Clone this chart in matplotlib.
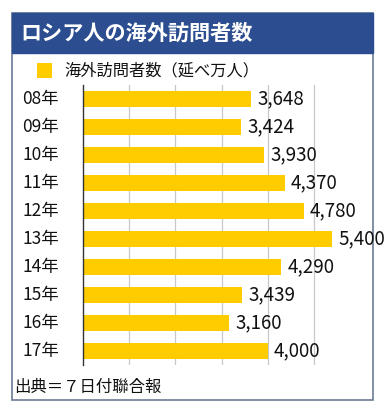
import matplotlib
matplotlib.use("Agg")
import matplotlib.pyplot as plt
from matplotlib.patches import Rectangle
from matplotlib.transforms import blended_transform_factory

plt.rcParams['font.family'] = ['Noto Sans CJK JP', 'DejaVu Sans']

years = ["08年", "09年", "10年", "11年", "12年", "13年", "14年", "15年", "16年", "17年"]
values = [3648, 3424, 3930, 4370, 4780, 5400, 4290, 3439, 3160, 4000]
title = "ロシア人の海外訪問者数"
legend_label = "海外訪問者数（延べ万人）"
source = "出典＝７日付聯合報"
grid_ticks = [1000, 2000, 3000, 4000, 5000]

W, H = 388, 412
fig = plt.figure(figsize=(W / 100, H / 100), dpi=100)

def fx(px):
    return px / W

def fy(py):
    return 1 - py / H

# outer frame
fig.patches.append(Rectangle((fx(12), fy(400)), fx(373) - fx(12), fy(13) - fy(400),
                             transform=fig.transFigure, facecolor="white",
                             edgecolor="#6b7a94", linewidth=1.2, zorder=-5))
# title band
fig.patches.append(Rectangle((fx(12), fy(53)), fx(373) - fx(12), fy(13) - fy(53),
                             transform=fig.transFigure, facecolor="#2c4e90",
                             edgecolor="#2c4e90", linewidth=1.0, zorder=-4))
fig.text(fx(20), fy(33), title, color="white", fontsize=15.2, fontweight="bold",
         va="center", ha="left")

# legend
fig.patches.append(Rectangle((fx(37), fy(78)), fx(52) - fx(37), fy(63) - fy(78),
                             transform=fig.transFigure, facecolor="#ffcc00",
                             edgecolor="none", zorder=-3))
fig.text(fx(64), fy(71), legend_label, fontsize=11.7, va="center", ha="left", color="#111111")

# axes
ax = fig.add_axes([fx(83), fy(365), fx(360) - fx(83), fy(85) - fy(365)])
ax.set_zorder(5)
ax.set_facecolor("none")
ypos = list(range(len(years)))
ax.barh(ypos, values, height=0.57, color="#ffcc00", zorder=2)
ax.set_xlim(0, 6000)
ax.set_ylim(len(years) - 0.5, -0.5)
for t in grid_ticks:
    ax.axvline(t, color="#c8c8c8", linewidth=0.9, zorder=1)
for s in ["top", "right", "bottom"]:
    ax.spines[s].set_visible(False)
ax.spines["left"].set_color("#333333")
ax.spines["left"].set_linewidth(1.0)
ax.set_xticks([])
ax.set_yticks([])
trans = blended_transform_factory(fig.transFigure, ax.transData)
for y, lab in zip(ypos, years):
    ax.text(fx(22), y, lab, transform=trans, va="center", ha="left", fontsize=12.5,
            color="#111111")
for y, v in zip(ypos, values):
    ax.annotate(f"{v:,}", (v, y), xytext=(4.5, 0), textcoords="offset points",
                va="center", ha="left", fontsize=13.5, color="#111111")

fig.text(fx(14), fy(387), source, fontsize=11.8, va="center", ha="left", color="#111111")

fig.savefig("out.png", dpi=100)
